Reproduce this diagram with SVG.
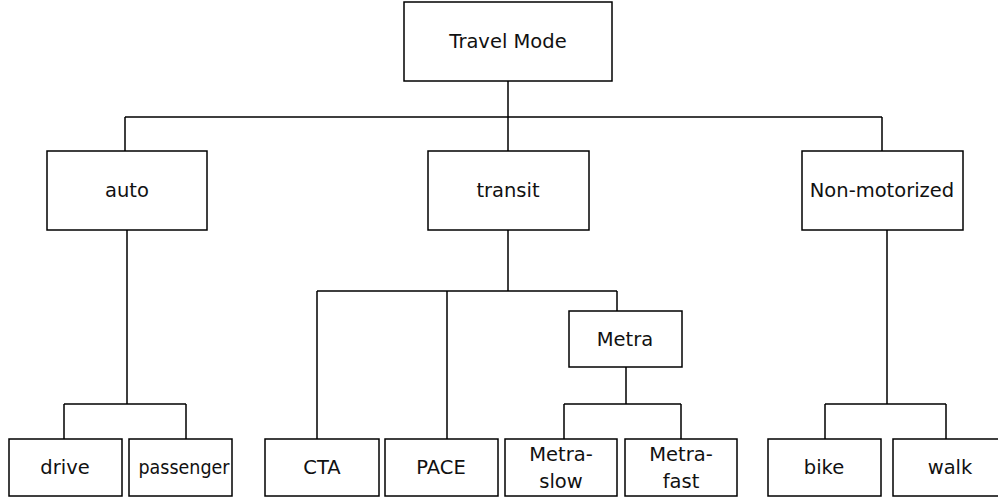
<svg xmlns="http://www.w3.org/2000/svg" width="998" height="500" viewBox="0 0 998 500">
<style>
rect{fill:#fff;stroke:#000;stroke-width:1.5}
text{font-family:"DejaVu Sans","Liberation Sans",sans-serif;font-size:19.5px;text-anchor:middle;fill:#111}
.c path{fill:none;stroke:#000;stroke-width:1.5}
</style>
<rect x="0" y="0" width="998" height="500" style="stroke:none"/>
<g class="c" id="connectors">
<path d="M508 81V117M125 117H882M125 117V151M508 117V151M882 117V151"/>
<path d="M127 230V404M64 404H186M64 404V439M186 404V439"/>
<path d="M508 230V291M317 291H617M317 291V439M447 291V439M617 291V311"/>
<path d="M626 367V404M564 404H681M564 404V439M681 404V439"/>
<path d="M887 230V404M825 404H946M825 404V439M946 404V439"/>
</g>
<g id="travel-mode"><rect x="404" y="2" width="208" height="79"/><text x="508" y="48">Travel Mode</text></g>
<g id="auto"><rect x="47" y="151" width="160" height="79"/><text x="127" y="197">auto</text></g>
<g id="transit"><rect x="428" y="151" width="161" height="79"/><text x="508" y="197">transit</text></g>
<g id="non-motorized"><rect x="802" y="151" width="161" height="79"/><text x="882" y="197">Non-motorized</text></g>
<g id="metra"><rect x="569" y="311" width="113" height="56"/><text x="625" y="346">Metra</text></g>
<g id="drive"><rect x="9" y="439" width="113" height="57"/><text x="65" y="474">drive</text></g>
<g id="passenger"><rect x="129" y="439" width="103" height="57"/><text x="184" y="474" textLength="91" lengthAdjust="spacingAndGlyphs">passenger</text></g>
<g id="cta"><rect x="265" y="439" width="114" height="57"/><text x="322" y="474">CTA</text></g>
<g id="pace"><rect x="385" y="439" width="113" height="57"/><text x="441" y="474">PACE</text></g>
<g id="metra-slow"><rect x="505" y="439" width="112" height="57"/><text x="561" y="461">Metra-</text><text x="561" y="488">slow</text></g>
<g id="metra-fast"><rect x="625" y="439" width="112" height="57"/><text x="681" y="461">Metra-</text><text x="681" y="488">fast</text></g>
<g id="bike"><rect x="768" y="439" width="113" height="57"/><text x="824" y="474">bike</text></g>
<g id="walk"><rect x="893" y="439" width="114" height="57"/><text x="950" y="474">walk</text></g>
</svg>
